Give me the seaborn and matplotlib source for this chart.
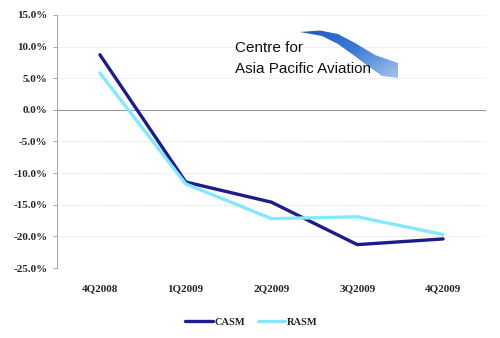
import matplotlib
matplotlib.use("Agg")
import matplotlib.pyplot as plt
from matplotlib.path import Path
from matplotlib.patches import PathPatch
import numpy as np
import pandas as pd
import seaborn as sns

quarters = ["4Q2008", "1Q2009", "2Q2009", "3Q2009", "4Q2009"]
casm = [8.7, -11.4, -14.6, -21.3, -20.4]
rasm = [5.8, -11.7, -17.2, -16.9, -19.7]
series_names = ["CASM", "RASM"]
y_ticks = [15, 10, 5, 0, -5, -10, -15, -20, -25]

df = pd.DataFrame({
    "quarter": quarters * 2,
    "pos": list(range(len(quarters))) * 2,
    "value": casm + rasm,
    "series": [series_names[0]] * len(quarters) + [series_names[1]] * len(quarters),
})

sns.set_style("white")
plt.rcParams["font.family"] = ["Liberation Serif", "DejaVu Serif"]

fig = plt.figure(figsize=(5.0, 3.38), dpi=100)
ax = fig.add_axes([0.114, 0.207, 0.858, 0.749])

palette = {"CASM": "#1c1c8f", "RASM": "#82e9ff"}
sns.lineplot(data=df, x="pos", y="value", hue="series", palette=palette,
             linewidth=2.4, ax=ax, legend=False)

ax.set_xlim(-0.5, 4.5)
ax.set_ylim(-25, 15)
ax.set_yticks(y_ticks)
ax.set_yticklabels([f"{v:.1f}%" for v in y_ticks], fontsize=8, fontweight="bold")
ax.set_xticks(range(len(quarters)))
ax.set_xticklabels(quarters, fontsize=8, fontweight="bold")
ax.tick_params(axis="x", length=0, pad=12)
ax.tick_params(axis="y", length=3, width=0.6, color="#999999", pad=4, direction="out", left=True)
ax.set_xlabel("")
ax.set_ylabel("")

for v in y_ticks:
    if v != 0:
        ax.axhline(v, color="#dddddd", linewidth=0.6, linestyle=(0, (1, 1)), zorder=0)
ax.axhline(0, color="#999999", linewidth=0.8, zorder=1)

for s in ["top", "right", "bottom"]:
    ax.spines[s].set_visible(False)
ax.spines["left"].set_color("#aaaaaa")
ax.spines["left"].set_linewidth(0.8)

# legend below the plot
handles = [plt.Line2D([0], [0], color=palette[n], linewidth=2.4) for n in series_names]
fig.legend(handles, series_names, loc="center", bbox_to_anchor=(0.503, 0.047), ncol=2,
           frameon=False, handlelength=2.6, handletextpad=0.2, columnspacing=1.2,
           prop={"family": "Liberation Serif", "weight": "bold", "size": 7.5})

# CAPA logo: gradient ribbon swoosh plus wordmark, laid out in pixel coordinates
logo = fig.add_axes([0, 0, 1, 1], zorder=5)
logo.set_xlim(0, 500)
logo.set_ylim(338, 0)
logo.axis("off")
logo.patch.set_alpha(0)
verts = [(300, 32), (320, 30.5), (338, 34), (355, 43), (375, 55), (398, 63),
         (398, 78), (382, 76), (368, 66), (352, 54), (338, 44), (322, 36), (300, 32)]
codes = [Path.MOVETO] + [Path.LINETO] * (len(verts) - 2) + [Path.CLOSEPOLY]
ribbon = PathPatch(Path(verts, codes), facecolor="none", edgecolor="none")
logo.add_patch(ribbon)
gx = np.linspace(0, 1, 100)
gy = np.linspace(0, 1, 50)
grad = 0.55 * gx[None, :] + 0.45 * gy[:, None]
img = logo.imshow(grad, extent=(298, 400, 80, 28), cmap=plt.matplotlib.colors.LinearSegmentedColormap.from_list(
    "swoosh", ["#1f55bf", "#3d7dd6", "#a9c8ee"]), aspect="auto", interpolation="bilinear")
img.set_clip_path(ribbon)
logo.set_xlim(0, 500)
logo.set_ylim(338, 0)
logo_font = ["Liberation Sans", "DejaVu Sans"]
logo.text(235, 52, "Centre for", fontsize=11, family=logo_font, va="baseline", ha="left", color="#111111")
logo.text(235, 73, "Asia Pacific Aviation", fontsize=11, family=logo_font, va="baseline", ha="left", color="#111111")

fig.savefig("out.png", dpi=100)
